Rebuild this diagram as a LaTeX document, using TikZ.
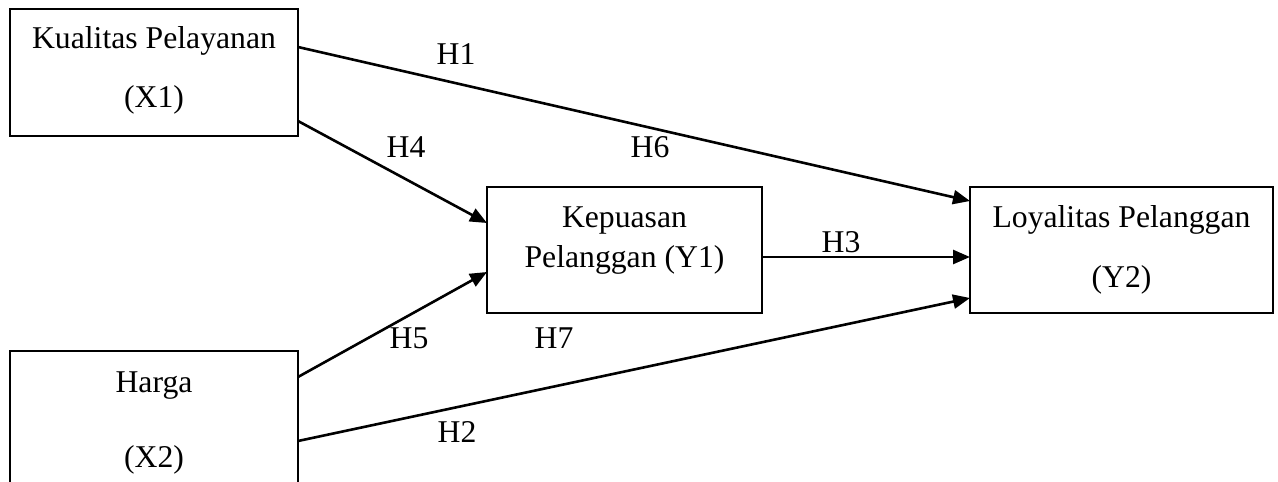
\documentclass[tikz,border=0pt]{standalone}
\usepackage{fontspec}
\setmainfont{Liberation Serif}
\usetikzlibrary{arrows.meta}
\begin{document}
\begin{tikzpicture}[x=1pt,y=-1pt,
  box/.style={draw=black,line width=2.2pt,rectangle,inner sep=0pt,outer sep=0pt},
  txt/.style={inner sep=0pt,outer sep=0pt,anchor=base,font=\fontsize{31.7}{38}\selectfont},
  conn/.style={line width=2.6pt,-{Triangle[length=17pt,width=14pt]}}]
\useasboundingbox (0,0) rectangle (1278,482);
\clip (0,0) rectangle (1278,482);
% boxes
\node[box,minimum width=288pt,minimum height=127pt] (x1) at (154,72.5) {};
\node[box,minimum width=288pt,minimum height=169pt] (x2) at (154,435.5) {};
\node[box,minimum width=275pt,minimum height=126pt] (y1) at (624.5,250) {};
\node[box,minimum width=303pt,minimum height=126pt] (y2) at (1121.5,250) {};
% box texts
\node[txt] (x1a) at (154,48) {Kualitas Pelayanan};
\node[txt] (x1b) at (154,107) {(X1)};
\node[txt] (x2a) at (154,392) {Harga};
\node[txt] (x2b) at (154,467) {(X2)};
\node[txt] (y1a) at (624.5,227) {Kepuasan};
\node[txt] (y1b) at (624.5,267) {Pelanggan (Y1)};
\node[txt] (y2a) at (1121.5,227) {Loyalitas Pelanggan};
\node[txt] (y2b) at (1121.5,287) {(Y2)};
% connectors
\draw[conn] (x1.east |- 0,47) -- (y2.west |- 0,201);
\draw[conn] (x1.east |- 0,121) -- (y1.west |- 0,223);
\draw[conn] (x2.east |- 0,377) -- (y1.west |- 0,272);
\draw[conn] (x2.east |- 0,441) -- (y2.west |- 0,298);
\draw[conn] (y1.east |- 0,257) -- (y2.west |- 0,257);
% labels
\node[txt] (h1) at (456,64) {H1};
\node[txt] (h4) at (406,157) {H4};
\node[txt] (h6) at (650,157) {H6};
\node[txt] (h3) at (841,252) {H3};
\node[txt] (h5) at (409,348) {H5};
\node[txt] (h7) at (554,348) {H7};
\node[txt] (h2) at (457,442) {H2};
\end{tikzpicture}
\end{document}
